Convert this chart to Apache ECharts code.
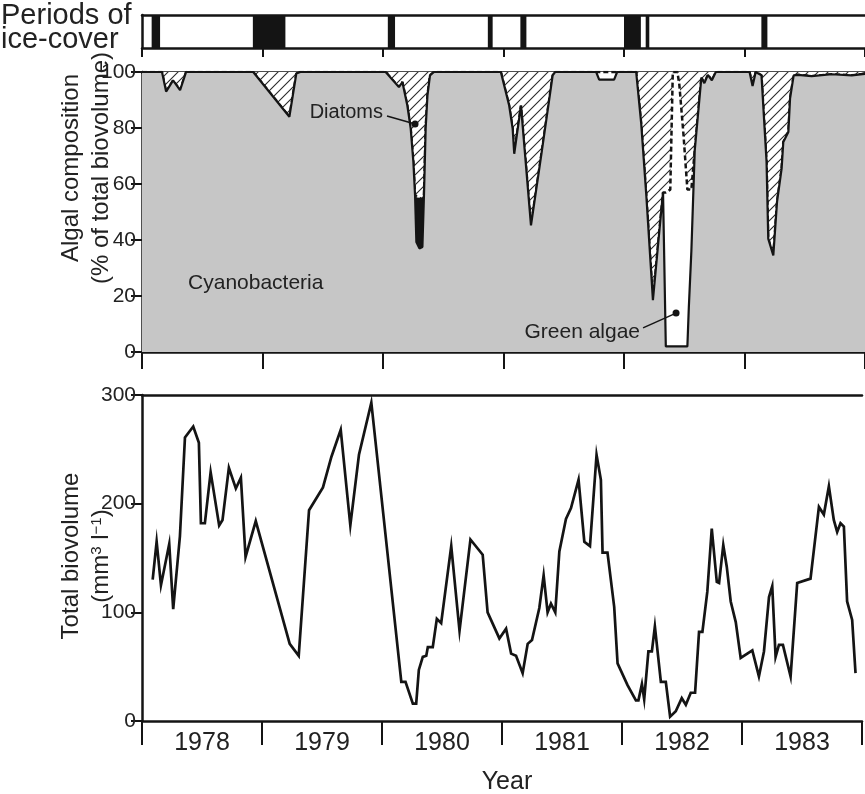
<!DOCTYPE html>
<html><head><meta charset="utf-8">
<script src="https://cdn.jsdelivr.net/npm/echarts/dist/echarts.min.js"></script>
<style>html,body{margin:0;padding:0;background:#fff}#c{width:865px;height:794px}</style>
</head><body><div id="c"></div>
<script>
const FONT = '"Liberation Sans", Arial, Helvetica, sans-serif';
const INK = '#141414';

// ---- Periods of ice-cover (decimal years) ----
const iceStart = [1978.08, 1978.92, 1980.04, 1980.87, 1981.14, 1982.00, 1982.18, 1983.14];
const iceEnd   = [1978.15, 1979.19, 1980.10, 1980.91, 1981.19, 1982.14, 1982.21, 1983.19];

// ---- Algal composition (% of total biovolume) ----
const compYears = [1978.000,1978.166,1978.200,1978.258,1978.316,1978.366,1978.923,1979.223,1979.281,1979.314,
  1980.022,1980.132,1980.161,1980.202,1980.230,1980.252,1980.266,1980.277,1980.302,1980.327,
  1980.340,1980.354,1980.369,1980.390,1980.423,1980.978,1980.993,1981.047,1981.076,1981.089,
  1981.145,1981.228,1981.319,1981.408,1981.428,1981.769,1981.794,1981.918,1981.943,1982.101,
  1982.143,1982.185,1982.240,1982.295,1982.324,1982.347,1982.384,1982.405,1982.443,1982.459,
  1982.493,1982.526,1982.538,1982.559,1982.587,1982.642,1982.667,1982.696,1982.729,1982.762,
  1983.042,1983.067,1983.093,1983.141,1983.183,1983.197,1983.239,1983.270,1983.308,1983.322,
  1983.364,1983.378,1983.408,1983.444,1983.557,1983.724,1983.890,1984.000];
const cyanobacteria = [100,100,93,97,93.5,100,100,84,99.5,100,
  100,94.6,96.4,88,79.8,67.9,56,39.3,37,37.5,
  56,79.8,91.7,98.8,100,100,99.4,88,79.8,70.8,
  88,45.2,72,98.8,100,100,97.3,97.3,100,100,
  81.5,56,18.5,44,57,2,2,2,2,2,
  2,2,16,36,72,98,96,99,97,100,
  100,95,100,98.8,67.9,40.5,34.5,53.6,65.5,75,
  78.6,90.5,98.8,99,98.5,99.2,98.8,99.3];
const otherAlgae = [0,0,0,0,0,0,0,0,0,0,
  0,0,0,0,0,0,0,16,18,17,
  0,0,0,0,0,0,0,0,0,0,
  0,0,0,0,0,0,0,0,0,0,
  0,0,0,0,0,0,0,0,0,0,
  0,0,0,0,0,0,0,0,0,0,
  0,0,0,0,0,0,0,0,0,0,
  0,0,0,0,0,0,0,0];
const greenAlgae = [0,0,0,0,0,0,0,0,0,0,
  0,0,0,0,0,0,0,0,0,0,
  0,0,0,0,0,0,0,0,0,0,
  0,0,0,0,0,0,2.7,2.7,0,0,
  0,0,0,0,0,55,56,98,98,93.6,
  76,56,42,22,0,0,0,0,0,0,
  0,0,0,0,0,0,0,0,0,0,
  0,0,0,0,0,0,0,0];
const diatoms = [0,0,7,3,6.5,0,0,16,0.5,0,
  0,5.4,3.6,12,20.2,32.1,44,44.7,45,45.5,
  44,20.2,8.3,1.2,0,0,0.6,12,20.2,29.2,
  12,54.8,28,1.2,0,0,0,0,0,0,
  18.5,44,81.5,56,43,43,42,0,0,4.4,
  22,42,42,42,28,2,4,1,3,0,
  0,5,0,1.2,32.1,59.5,65.5,46.4,34.5,25,
  21.4,9.5,1.2,1,1.5,0.8,1.2,0.7];

// ---- Total biovolume (mm3 l-1) ----
const bioYears = [1978.089,1978.122,1978.158,1978.227,1978.260,1978.316,1978.358,1978.427,1978.474,1978.491,
  1978.524,1978.572,1978.643,1978.671,1978.724,1978.782,1978.824,1978.863,1978.948,1979.231,
  1979.306,1979.392,1979.453,1979.508,1979.578,1979.656,1979.736,1979.808,1979.911,1980.161,
  1980.196,1980.257,1980.285,1980.307,1980.340,1980.369,1980.382,1980.423,1980.457,1980.493,
  1980.577,1980.646,1980.737,1980.839,1980.880,1980.978,1981.034,1981.076,1981.117,1981.172,
  1981.214,1981.250,1981.311,1981.347,1981.380,1981.408,1981.444,1981.478,1981.533,1981.575,
  1981.638,1981.686,1981.733,1981.788,1981.824,1981.838,1981.879,1981.935,1981.963,1982.046,
  1982.116,1982.137,1982.166,1982.185,1982.220,1982.249,1982.274,1982.324,1982.365,1982.401,
  1982.448,1982.498,1982.532,1982.573,1982.609,1982.642,1982.670,1982.711,1982.748,1982.790,
  1982.809,1982.844,1982.873,1982.906,1982.948,1982.989,1983.086,1983.141,1983.183,1983.225,
  1983.252,1983.280,1983.308,1983.341,1983.405,1983.460,1983.571,1983.641,1983.682,1983.724,
  1983.765,1983.793,1983.821,1983.849,1983.876,1983.918,1983.946];
const bioValues = [130,165,125,163,103,170,261,271,256,182,
  182,229,180,185,233,214,224,151,184,71,
  60,194,205,215,243,268,180,245,293,36,
  36,16,16,47,59,60,68,68,94,90,
  161,83,167,153,100,76,85,62,60,44,
  71,74.5,104,134,100,108,100,156,186,196,
  222,165,161,245,222,155,155,105,53,33,
  19,19,34,20,64,64,87,36,36,4,
  9,21,15,26,26,82,82,119,177,128,
  127,162,142,110,91,58,65,41,64,114,
  124,59,70,70,41,127,131,197,190,216,
  185,174,182,179,110,93,44];

const yearTicks = [1978, 1979, 1980, 1981, 1982, 1983, 1984];

function hatchPattern() {
  const s = 10;
  const c = document.createElement('canvas');
  c.width = s; c.height = s;
  const g = c.getContext('2d');
  g.fillStyle = '#ffffff'; g.fillRect(0, 0, s, s);
  g.strokeStyle = '#2a2a2a'; g.lineWidth = 1.1;
  g.beginPath();
  g.moveTo(0, s); g.lineTo(s, 0);
  g.moveTo(-1, 1); g.lineTo(1, -1);
  g.moveTo(s - 1, s + 1); g.lineTo(s + 1, s - 1);
  g.stroke();
  return c;
}

const chart = echarts.init(document.getElementById('c'), null, {renderer: 'canvas'});

const lineAxis = (grid, pos) => ({
  gridIndex: grid, type: 'value', min: yearTicks[0], max: yearTicks[yearTicks.length - 1], interval: 1,
  position: pos, axisLine: {show: true, onZero: false, lineStyle: {color: INK, width: 2.5}},
  axisTick: {show: false}, axisLabel: {show: false}, splitLine: {show: false}
});
const tickAxis = (grid, len, showLine) => ({
  gridIndex: grid, type: 'value', min: yearTicks[0], max: yearTicks[yearTicks.length - 1], interval: 1,
  position: 'bottom', axisLine: {show: showLine, onZero: false, lineStyle: {color: INK, width: 2.5}},
  axisTick: {show: true, inside: false, length: len, lineStyle: {color: INK, width: 2}},
  axisLabel: {show: false}, splitLine: {show: false}
});

// composition points are stored as [share, year] so that the library stacks the share dimension
const compPairs = ys => compYears.map((t, i) => [ys[i], t]);
const compSeries = (name, values, z, extra) => Object.assign({
  name: name, type: 'line', xAxisIndex: 2, yAxisIndex: 1, stack: 'comp', z: z,
  data: compPairs(values), encode: {x: 1, y: 0},
  showSymbol: false, symbol: 'none', silent: true
}, extra);

const option = {
  animation: false,
  backgroundColor: '#ffffff',
  textStyle: {fontFamily: FONT},
  grid: [
    {left: 142, top: 15, right: 0, height: 33},
    {left: 142, top: 72, right: 0, height: 280},
    {left: 142, top: 395, right: 0, height: 326}
  ],
  xAxis: [
    tickAxis(0, 9, true),
    lineAxis(0, 'top'),
    tickAxis(1, 17, true),
    lineAxis(1, 'top'),
    tickAxis(2, 24, true),
    lineAxis(2, 'top'),
    {
      gridIndex: 2, type: 'value', min: 1978, max: 1984, interval: 0.5, position: 'bottom',
      axisLine: {show: false}, axisTick: {show: false}, splitLine: {show: false},
      axisLabel: {
        show: true, margin: 10, fontSize: 25, color: '#222', fontFamily: FONT,
        formatter: v => (Math.abs(v - Math.floor(v) - 0.5) < 1e-6 ? String(Math.floor(v)) : '')
      }
    }
  ],
  yAxis: [
    {gridIndex: 0, type: 'value', min: 0, max: 1,
      axisLine: {show: true, lineStyle: {color: INK, width: 2.5}},
      axisTick: {show: false}, axisLabel: {show: false}, splitLine: {show: false}},
    {gridIndex: 1, type: 'value', min: 0, max: 100, interval: 20,
      axisLine: {show: true, lineStyle: {color: INK, width: 2.5}},
      axisTick: {show: true, length: 11, lineStyle: {color: INK, width: 2}},
      axisLabel: {fontSize: 21, color: '#222', margin: 6, fontFamily: FONT},
      splitLine: {show: false}},
    {gridIndex: 2, type: 'value', min: 0, max: 300, interval: 100,
      axisLine: {show: true, lineStyle: {color: INK, width: 2.5}},
      axisTick: {show: true, length: 11, lineStyle: {color: INK, width: 2}},
      axisLabel: {fontSize: 21, color: '#222', margin: 6, fontFamily: FONT},
      splitLine: {show: false}}
  ],
  series: [
    {
      name: 'Ice cover', type: 'custom', xAxisIndex: 0, yAxisIndex: 0, silent: true,
      data: iceStart.map((s, i) => [s, iceEnd[i]]),
      encode: {x: [0, 1]},
      renderItem: (params, api) => {
        const a = api.coord([api.value(0), 1]);
        const b = api.coord([api.value(1), 0]);
        return {type: 'rect', shape: {x: a[0], y: a[1], width: b[0] - a[0], height: b[1] - a[1]},
          style: {fill: INK}};
      }
    },
    compSeries('Cyanobacteria', cyanobacteria, 6, {
      lineStyle: {color: INK, width: 2.2}, areaStyle: {color: '#c6c6c6', opacity: 1}
    }),
    compSeries('Other', otherAlgae, 4, {
      lineStyle: {width: 0, opacity: 0}, areaStyle: {color: INK, opacity: 1}
    }),
    compSeries('Green algae', greenAlgae, 5, {
      lineStyle: {color: INK, width: 2.5, type: [5, 3]}, areaStyle: {color: '#ffffff', opacity: 1}
    }),
    compSeries('Diatoms', diatoms, 3, {
      lineStyle: {width: 0, opacity: 0},
      areaStyle: {color: {image: hatchPattern(), repeat: 'repeat'}, opacity: 1}
    }),
    {
      name: 'Total biovolume', type: 'line', xAxisIndex: 4, yAxisIndex: 2,
      data: bioYears.map((t, i) => [t, bioValues[i]]), showSymbol: false, symbol: 'none', silent: true,
      lineStyle: {color: INK, width: 2.7, join: 'miter'}
    }
  ]
};
chart.setOption(option);

// annotations placed through the composition grid's scales
const P = (t, v) => chart.convertToPixel({xAxisIndex: 2, yAxisIndex: 1}, [t, v]);
const txt = (x, y, text, size, align, extra) => Object.assign({
  type: 'text', x: x, y: y, silent: true, z: 100,
  style: {text: text, fill: '#222', font: size + 'px ' + FONT, textAlign: align, textVerticalAlign: 'middle'}
}, extra || {});

const cyPos = P(1978.382, 24.6);
const diaTxt = P(1980.0, 85.4), diaA = P(1980.033, 84.3), diaDot = P(1980.266, 81.4);
const grTxt = P(1982.133, 7.1), grA = P(1982.158, 8.6), grDot = P(1982.432, 13.9);

chart.setOption({
  graphic: [
    txt(1, 16, 'Periods of', 29, 'left'),
    txt(1, 40, 'ice-cover', 29, 'left'),
    txt(cyPos[0], cyPos[1], 'Cyanobacteria', 21, 'left'),
    txt(diaTxt[0], diaTxt[1], 'Diatoms', 20, 'right'),
    {type: 'line', silent: true, z: 100, shape: {x1: diaA[0], y1: diaA[1], x2: diaDot[0], y2: diaDot[1]}, style: {stroke: INK, lineWidth: 1.5}},
    {type: 'circle', silent: true, z: 100, shape: {cx: diaDot[0], cy: diaDot[1], r: 3.5}, style: {fill: INK}},
    txt(grTxt[0], grTxt[1], 'Green algae', 21, 'right'),
    {type: 'line', silent: true, z: 100, shape: {x1: grA[0], y1: grA[1], x2: grDot[0], y2: grDot[1]}, style: {stroke: INK, lineWidth: 1.5}},
    {type: 'circle', silent: true, z: 100, shape: {cx: grDot[0], cy: grDot[1], r: 3.5}, style: {fill: INK}},
    txt(71, 168, 'Algal composition', 24, 'center', {rotation: Math.PI / 2}),
    txt(101, 168, '(% of total biovolume)', 24, 'center', {rotation: Math.PI / 2}),
    txt(71, 556, 'Total biovolume', 24, 'center', {rotation: Math.PI / 2}),
    {type: 'text', x: 101, y: 556, rotation: Math.PI / 2, silent: true, z: 100,
      style: {text: '(mm{s|3} l{s|\u22121})', fill: '#222', font: '24px ' + FONT,
        textAlign: 'center', textVerticalAlign: 'middle',
        rich: {s: {fontSize: 15, fontFamily: FONT, fill: '#222', verticalAlign: 'top'}}}},
    txt(507, 782, 'Year', 25, 'center')
  ]
});
</script>
</body></html>
